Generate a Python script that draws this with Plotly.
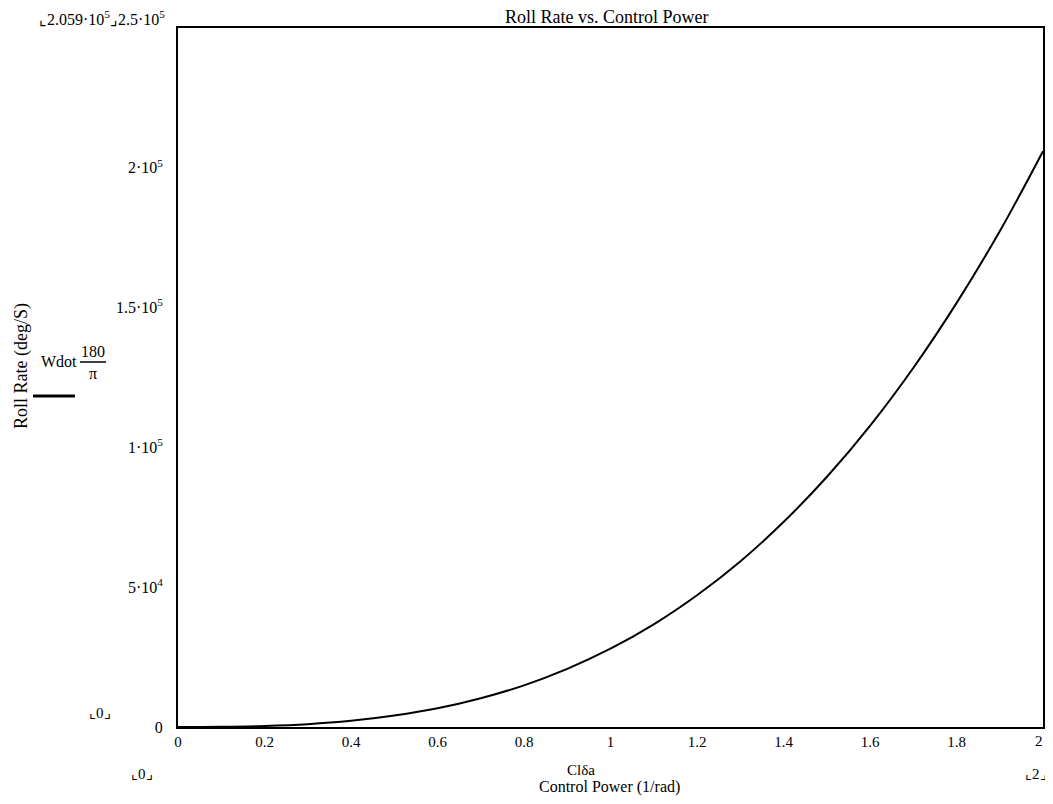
import plotly.graph_objects as go

# Data
control_power = [0.0, 0.1, 0.2, 0.3, 0.4, 0.5, 0.6, 0.7, 0.8, 0.9, 1.0,
                 1.1, 1.2, 1.3, 1.4, 1.5, 1.6, 1.7, 1.8, 1.9, 2.0]
roll_rate = [0, 70, 370, 1000, 2200, 4100, 6700, 10300, 14900, 20800, 28000,
             36700, 47100, 59200, 73300, 89400, 107700, 128400, 151600, 177300, 205900]

x_ticks = [0, 0.2, 0.4, 0.6, 0.8, 1.0, 1.2, 1.4, 1.6, 1.8]
x_ticktext = ["0", "0.2", "0.4", "0.6", "0.8", "1", "1.2", "1.4", "1.6", "1.8"]
x_last_label = "2"
y_ticks = [0, 50000, 100000, 150000, 200000]
y_ticktext = ["0", "5·10<sup>4</sup>", "1·10<sup>5</sup>", "1.5·10<sup>5</sup>", "2·10<sup>5</sup>"]

FONT = "Liberation Serif, Times New Roman, serif"

fig = go.Figure()
fig.add_trace(go.Scatter(x=control_power, y=roll_rate, mode="lines",
                         line=dict(color="black", width=2, shape="spline"),
                         showlegend=False))

# The page body has an 8px margin; figure sized so it fits the 1053x804 window.
OFF = 8
W, H = 1037, 788
# target plot area in page pixels: x 178..1043, y 28..727
L = 178 - OFF
R = W - (1043 - OFF)
T = 28 - OFF
B = H - (727 - OFF)

fig.update_layout(
    width=W, height=H,
    margin=dict(l=L, r=R, t=T, b=B, autoexpand=False),
    paper_bgcolor="white", plot_bgcolor="white",
    font=dict(family=FONT, size=16, color="black"),
    xaxis=dict(range=[0, 2], tickvals=x_ticks, ticktext=x_ticktext,
               showgrid=False, zeroline=False, showline=True, linecolor="black",
               linewidth=2, mirror=True, ticks="", ticklabelstandoff=0,
               automargin=False, ticklabeloverflow="allow",
               tickfont=dict(family=FONT, size=15)),
    yaxis=dict(range=[0, 250000], tickvals=y_ticks, ticktext=y_ticktext,
               showgrid=False, zeroline=False, showline=True, linecolor="black",
               linewidth=2, mirror=True, ticks="", ticklabelstandoff=10,
               automargin=False, ticklabeloverflow="allow",
               tickfont=dict(family=FONT, size=16)),
)

pw, ph = W - L - R, H - T - B
def px(x): return (x - OFF - L) / pw
def py(y): return (H - B - (y - OFF)) / ph

ann = []
def add(text, x, y, size=16, angle=0, xanchor="center"):
    ann.append(dict(text=text, x=px(x), y=py(y), xref="paper", yref="paper", showarrow=False,
                    font=dict(family=FONT, size=size, color="black"), textangle=angle,
                    xanchor=xanchor, yanchor="middle"))

add("Roll Rate vs. Control Power", 607, 17, size=18)
add("⌞2.059·10<sup>5</sup>⌟2.5·10<sup>5</sup>", 102, 18, size=16)
add(x_last_label, 1045, 741, size=15, xanchor="right")
add("⌞0⌟", 100, 713, size=15)
add("⌞0⌟", 142, 774, size=15)
add("⌞2⌟", 1036, 774, size=15)
add("Clδa", 581, 770, size=15)
add("Control Power (1/rad)", 609, 787, size=16)
add("Roll Rate (deg/S)", 21, 366, size=18, angle=-90)
add("Wdot", 59, 361, size=16)
add("180", 93, 351, size=16)
add("π", 93, 373, size=16)
fig.update_layout(annotations=ann)

# fraction bar and legend line sample
fig.add_shape(type="line", xref="paper", yref="paper",
              x0=px(80), x1=px(106), y0=py(362), y1=py(362),
              line=dict(color="black", width=1.5))
fig.add_shape(type="line", xref="paper", yref="paper",
              x0=px(33), x1=px(75), y0=py(396), y1=py(396),
              line=dict(color="black", width=3))

fig.write_html("out.html")
